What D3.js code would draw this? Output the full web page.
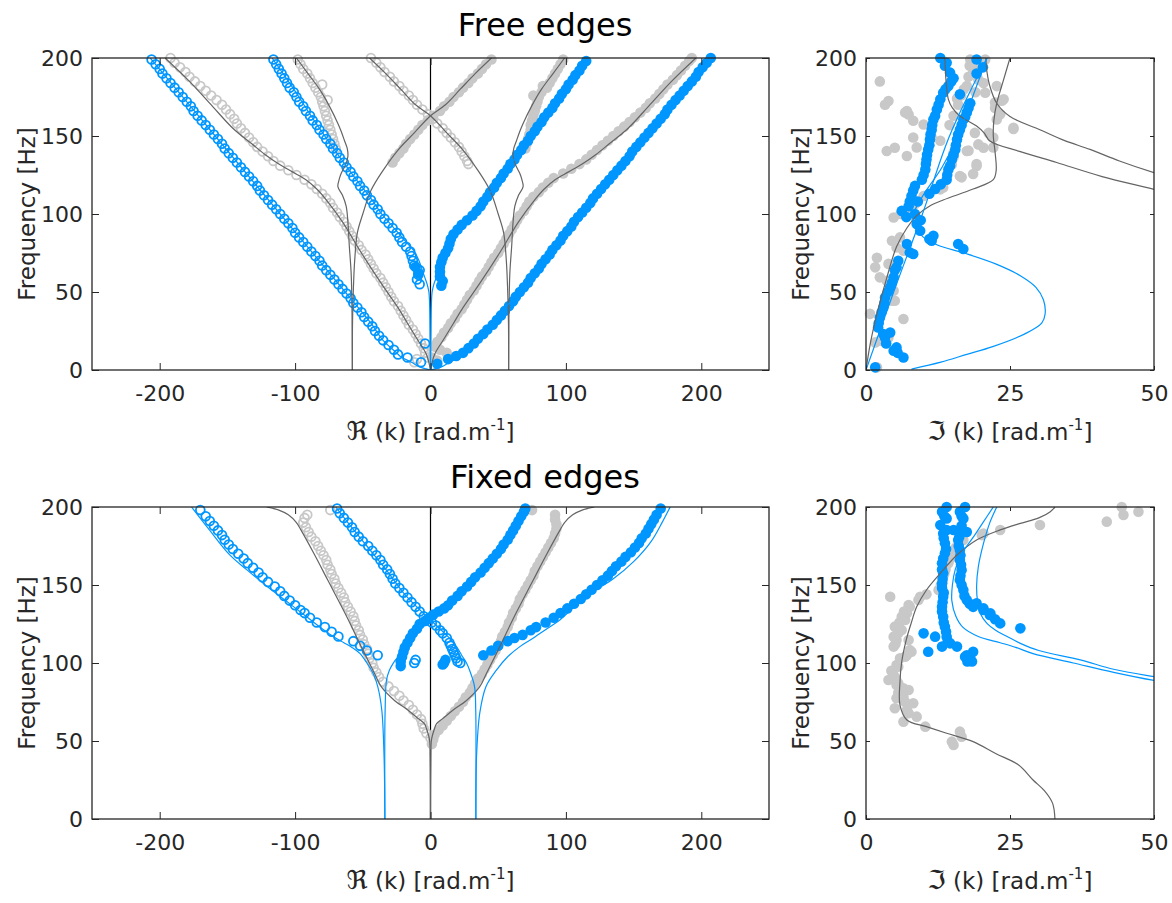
<!DOCTYPE html>
<html>
<head>
<meta charset="utf-8">
<script src="https://cdn.jsdelivr.net/npm/d3@7"></script>
<style>
  body { margin: 0; background: #fff; }
  text { font-family: "DejaVu Sans", Verdana, sans-serif; }
</style>
</head>
<body>
<svg id="fig" width="1172" height="903"></svg>
<script>
// ---- data: each point is [frequency Hz, k rad/m] ----

// Free edges, real part
const freeReBlueOpenA = [[5,-7],[8,-17],[10,-24],[13,-27],[16,-31],[19,-35],[22,-38],[25,-41],[28,-43],[31,-46],[34,-49],[37,-51],[40,-54],[43,-57],[46,-59],[49,-62],[52,-65],[55,-68],[58,-71],[61,-74],[64,-77],[67,-80],[70,-82],[73,-85],[76,-88],[79,-91],[82,-94],[85,-97],[88,-100],[91,-102],[94,-105],[97,-108],[100,-111],[103,-114],[106,-117],[109,-120],[112,-123],[115,-126],[118,-128],[121,-131],[124,-134],[127,-137],[130,-140],[133,-143],[136,-146],[139,-149],[142,-152],[145,-154],[148,-157],[151,-160],[154,-163],[157,-166],[160,-169],[163,-172],[166,-175],[169,-177],[172,-180],[175,-183],[178,-186],[181,-189],[184,-192],[187,-195],[190,-198],[193,-200],[196,-203],[199,-206],[17,-4]];
const freeReBlueFillD = [[4,5],[7,13],[9,19],[11,24],[14,28],[17,32],[20,35],[23,39],[26,42],[29,46],[32,49],[35,52],[38,55],[41,58],[44,61],[47,63],[50,66],[53,69],[56,72],[59,74],[62,77],[65,80],[68,82],[71,85],[74,88],[77,90],[80,93],[83,96],[86,98],[89,101],[92,104],[95,106],[98,109],[101,112],[104,115],[107,118],[110,120],[113,123],[116,126],[119,129],[122,132],[125,135],[128,138],[131,141],[134,144],[137,147],[140,149],[143,152],[146,155],[149,158],[152,161],[155,164],[158,167],[161,170],[164,173],[167,175],[170,178],[173,181],[176,184],[179,187],[182,190],[185,193],[188,196],[191,198],[194,201],[197,204],[200,207]];
const freeReBlueOpenB = [[55,-8],[58,-10],[61,-9],[64,-8],[67,-12],[70,-13],[73,-14],[76,-15],[79,-18],[82,-21],[85,-23],[88,-25],[91,-28],[94,-31],[97,-34],[100,-37],[103,-39],[106,-42],[109,-44],[112,-47],[115,-49],[118,-52],[121,-54],[124,-57],[127,-59],[130,-62],[133,-64],[136,-67],[139,-69],[142,-72],[145,-74],[148,-77],[151,-79],[154,-82],[157,-84],[160,-87],[163,-89],[166,-92],[169,-94],[172,-97],[175,-99],[178,-101],[181,-104],[184,-106],[187,-108],[190,-110],[193,-112],[196,-114],[199,-116]];
const freeReBlueFillC = [[54,8],[57,9],[60,7],[63,7],[66,7],[69,8],[72,9],[75,11],[78,13],[81,14],[84,15],[87,17],[90,20],[93,23],[96,27],[99,31],[102,34],[105,37],[108,39],[111,42],[114,44],[117,47],[120,49],[123,52],[126,54],[129,57],[132,59],[135,62],[138,64],[141,67],[144,69],[147,72],[150,74],[153,77],[156,79],[159,82],[162,84],[165,87],[168,90],[171,92],[174,95],[177,97],[180,100],[183,102],[186,105],[189,107],[192,110],[195,112],[198,115],[66,-11],[62,-9]];
const freeReGrayOpenE = [[5,-12],[7,-10],[8,-2],[11,-4],[14,-5],[17,-7],[20,-9],[23,-11],[26,-13],[29,-16],[32,-18],[35,-20],[38,-22],[41,-24],[44,-27],[47,-29],[50,-31],[53,-33],[56,-35],[59,-37],[62,-40],[65,-42],[68,-44],[71,-46],[74,-48],[77,-51],[80,-53],[83,-56],[86,-58],[89,-60],[92,-62],[95,-64],[98,-67],[101,-69],[104,-72],[107,-74],[110,-77],[113,-80],[116,-84],[119,-88],[122,-93],[125,-99],[128,-105],[131,-111],[134,-116],[137,-120],[140,-124],[143,-128],[146,-131],[149,-134],[152,-137],[155,-140],[158,-143],[161,-145],[164,-148],[167,-151],[170,-154],[173,-158],[176,-162],[179,-166],[182,-170],[185,-174],[188,-178],[191,-181],[194,-185],[197,-189],[200,-192]];
const freeReGrayFillF = [[6,5],[8,1],[11,12],[13,7],[15,3],[18,5],[21,8],[24,10],[27,13],[30,15],[33,18],[36,20],[39,23],[42,25],[45,27],[48,29],[51,32],[54,34],[57,36],[60,38],[63,41],[66,43],[69,45],[72,47],[75,50],[78,52],[81,54],[84,56],[87,58],[90,60],[93,62],[96,64],[99,66],[102,69],[105,71],[108,73],[111,76],[114,80],[117,83],[120,87],[123,91],[126,98],[129,104],[132,110],[135,115],[138,119],[141,123],[144,127],[147,131],[150,135],[153,139],[156,143],[159,147],[162,151],[165,155],[168,159],[171,162],[174,166],[177,169],[180,172],[183,175],[186,179],[189,182],[192,185],[195,188],[198,191],[200,193]];
const freeReGrayOpenG = [[142,-70],[145,-71],[148,-72],[151,-73],[154,-74],[157,-75],[160,-76],[163,-77],[166,-78],[169,-79],[172,-80],[175,-81],[178,-83],[181,-85],[184,-87],[187,-89],[190,-91],[193,-94],[196,-96],[199,-98],[173,-76],[183,-80]];
const freeReGrayFillJ = [[142,70],[145,71],[148,72],[151,73],[154,74],[157,74],[160,75],[163,76],[166,77],[169,78],[172,79],[175,80],[178,82],[181,86],[184,88],[187,90],[190,92],[193,94],[196,96],[199,98],[176,76],[182,83]];
const freeReGrayOpenH = [[132,28],[134,27],[137,25],[140,23],[143,21],[146,18],[149,15],[152,12],[155,9],[158,5],[161,2],[164,-2],[167,-6],[170,-10],[173,-13],[176,-16],[179,-20],[182,-23],[185,-27],[188,-30],[191,-34],[194,-37],[197,-40],[200,-44]];
const freeReGrayFillI = [[133,-28],[136,-26],[139,-23],[142,-20],[145,-18],[148,-15],[151,-12],[154,-9],[157,-6],[160,-2],[163,2],[166,7],[169,10],[172,14],[175,17],[178,21],[181,24],[184,28],[187,31],[190,35],[193,38],[196,41],[199,45]];

const freeReModelGrayR1 = [[0,0],[10,3],[20,10],[30,17],[40,24],[55,36],[75,51],[95,65],[108,76],[116,84],[122,92],[127,102],[132,112],[138,122],[145,132],[155,146],[169,161],[185,178],[200,196]];
const freeReModelGrayL1 = [[0,0],[10,-3],[20,-10],[30,-17],[40,-24],[55,-36],[75,-51],[95,-65],[108,-76],[116,-84],[122,-92],[127,-102],[132,-112],[138,-122],[145,-132],[155,-146],[169,-161],[185,-178],[200,-196]];
const freeReModelGrayR2 = [[0,57.7],[20,57.8],[40,58],[62,58.6],[80,60],[95,61],[105,62.3],[112,65],[117.5,68.4],[122,67.5],[126,66],[132,62.5],[137,61],[142,61.5],[147,63.5],[153,66],[158,68.4],[169,74.6],[180,82],[190,90.5],[200,99]];
const freeReModelGrayL2 = [[0,-57.7],[20,-57.8],[40,-58],[62,-58.6],[80,-60],[95,-61],[105,-62.3],[112,-65],[117.5,-68.4],[122,-67.5],[126,-66],[132,-62.5],[137,-61],[142,-61.5],[147,-63.5],[153,-66],[158,-68.4],[169,-74.6],[180,-82],[190,-90.5],[200,-99]];
const freeReModelGrayX1 = [[0,57.7],[30,57.6],[51,57],[70,56],[88,54],[100,50],[115,44],[128,35],[141,24],[152,12],[163,0],[170,-11],[180,-22],[190,-33],[200,-45]];
const freeReModelGrayX2 = [[0,-57.7],[30,-57.6],[51,-57],[70,-56],[88,-54],[100,-50],[115,-44],[128,-35],[141,-24],[152,-12],[163,0],[170,11],[180,22],[190,33],[200,45]];
const freeReModelBlueR1 = [[0,0],[2,8],[5,14],[8.5,22],[11,25],[19,35],[30,46],[50,65],[100,112],[150,160],[200,207]];
const freeReModelBlueL1 = [[0,0],[2,-8],[5,-14],[8.5,-22],[11,-25],[19,-35],[30,-44],[50,-63],[100,-111],[150,-159],[200,-207]];
const freeReModelBlueR2 = [[0,0],[20,0.3],[40,0.6],[50,1.2],[55,2.5],[60,4.5],[66,6.5],[72,8.5],[78,11.5],[84,15],[90,19],[96,26],[102,33],[110,41],[120,49],[140,66],[160,83],[180,100],[200,117]];
const freeReModelBlueL2 = [[0,0],[20,-0.3],[40,-0.6],[50,-1.2],[55,-2.5],[60,-4.5],[65,-6.5],[70,-8.5],[76,-12],[82,-18],[88,-24],[94,-30],[100,-36],[110,-44],[120,-53],[140,-70],[160,-86],[180,-101],[200,-117]];

// Free edges, imaginary part
const freeImBlue = [[200,12.9],[197,14],[195,13.7],[190.6,14.6],[187,15.2],[185,14.8],[182,14.3],[180,13.8],[177.7,13.4],[173.5,12.9],[170,12.6],[167,12.3],[163,12],[160.6,11.7],[157,11.5],[154,11.4],[151,11.2],[147.8,11.1],[144,11],[141.4,10.8],[138,10.6],[135,10.5],[132,10.4],[128.6,10.3],[125,10],[122,9.7],[118,8.5],[115,8.2],[111.5,7.9],[108,7.6],[105,7.4],[102,6.2],[98,7],
  [176.7,16.3],[171,18.1],[168,17.8],[165,17.5],[162,17.2],[160.6,16.9],[157,16.6],[154,16.3],[151,16],[147.8,15.8],[144,15.6],[141.4,15.5],[138,15.2],[135,14.9],[131,14.6],[128.6,14.3],[125,14.1],[122,14],[119,13],[116,12],[113,11],[108,9],[100,8.5],[96,9.5],
  [199,19.2],[194,20.3],[190,19.2],
  [93.6,8.8],[89.3,9.4],[86,11.7],[84,11],[82.9,11.4],[80.8,16],[77.6,16.9],[80.8,7.1],[75.4,7.6],[74.4,8.2],[70,5.6],[65.8,5.3],[64,5],[59.4,4.8],[56,4.5],[53,4.2],[50,3.8],[46.5,3.3],[43,3.2],[40,3],[37,2.7],[33.7,2.4],[30,2.2],[27.3,2.1],[24,4.2],[23,3],[20.9,3.3],[17,3.5],[14.5,5.3],[12.4,4.8],[11,5.5],[8,6.5],[1.7,1.6]];
const freeImGray = [[185,2.4],[172.4,3.9],[170,3.3],[166,7.1],[163.8,7.4],[157.4,10],[149,8.2],[140.4,3.6],[142.5,5],[137.2,7.1],[199,18.1],[199,20.7],[190.6,18.6],[182,17.5],[174,15.8],[184,20.4],[177.7,20.7],[182,22.7],[173.5,23.9],[168,22.4],[160.6,22.7],[155.3,25.6],[152,21.3],[152,18.9],[144.6,19.5],[142.5,20.4],[140.4,17.5],[139.3,15.2],[130.8,19.2],[124.4,16.3],[131.8,14.9],[115.8,12.9],[119,13.2],[111.5,10],[106.2,8.5],[102,7.1],[165,6.8],[159.8,8.2],[142.7,8.8],[149,11.4],[147,12.9],[136.3,15.2],[140.6,17.8],[142.7,22.1],[149,22.1],[132,19.2],[125.6,18.6],[123.5,16.6],[117,13.4],[171.5,22.4],[172.6,23.6],[164,23.3],[154.5,25.6],
  [195,18],[193,19.5],[188,17.8],[186,19.5],[180,17],[178,19],[176,16.5],[170,16],[163,15.2],[157,14.5],
  [72,1.9],[65.8,1.6],[59.4,2.4],[68,3.9],[57.2,3.6],[50.8,4.8],[44.4,4.5],[44.4,5],[36,0.7],[32.7,6.5],[20.9,3.9],[18.8,2.4],[17.7,1.6],[1.7,1.9],[85,5.9],[78.6,5.3],[82.9,4.5],[76.5,6.5],[97.8,4.8],[100,6],[101,7.6]];

const freeImModelGray1 = [[0,0],[18,0.8],[36,1.9],[59,3.6],[79,5.3],[91,7.1],[99,8.8],[105,11],[109,13.4],[116,18.6],[122,22.1],[128,22.6],[140,22.4],[150,22.1],[160,22.2],[171,22.7],[185,23.8],[200,25]];
const freeImModelGray2 = [[120,56],[126.5,50],[134,44],[141.4,38.9],[147,34.5],[154,30.2],[162.5,25],[171,22.7],[182,21.5],[191,21],[200,20.8]];
const freeImModelGray3 = [[110,56],[115.8,50],[124,41],[133,33.1],[140,26.8],[146.8,21.5],[152,20.5],[156.4,19.2],[162.8,16.3],[168,15],[173.5,14.3],[185,13.9],[200,13.7]];
const freeImModelBlue1 = [[0,0],[50,4.8],[100,9.8],[150,14.5],[200,21]];
const freeImModelBlue2 = [[0.6,7.9],[5,13],[10,17.5],[15,22],[23,27.5],[30,30.5],[36,31.1],[45,30.8],[53,29.5],[60,27],[68,22.5],[75,17],[80,12.5],[85,10],[90,8.8],[97,8],[110,9.6],[130,13.2],[150,16],[175,18.5],[200,21]];

// Fixed edges, real part
const fixReBlueOpenA = [[105,-39],[108,-47],[111,-52],[114,-57],[117,-68],[120,-73],[123,-78],[126,-84],[129,-89],[132,-93],[134,-96],[137,-100],[140,-104],[143,-108],[146,-111],[149,-115],[152,-120],[155,-124],[158,-127],[161,-131],[164,-135],[167,-138],[170,-142],[173,-146],[176,-149],[179,-152],[182,-154],[185,-157],[188,-160],[191,-163],[194,-166],[198,-170]];
const fixReBlueFillA = [[105,39],[108,45],[111,50],[114,57],[116,62],[118,68],[121,74],[123,78],[126,85],[129,91],[132,96],[135,101],[138,106],[141,111],[144,115],[147,119],[150,123],[153,127],[156,131],[159,134],[162,137],[165,141],[168,144],[171,148],[174,151],[177,154],[180,156],[183,159],[186,161],[189,163],[192,165],[195,167],[199,170]];
const fixReBlueFillC = [[98,-22],[101,-22],[104,-21],[107,-20],[110,-19],[113,-17],[116,-15],[119,-13],[122,-10],[125,-8],[127,-4],[129,-1],[131,2],[133,6],[135,10],[137,13],[140,16],[143,20],[146,23],[149,27],[152,30],[155,33],[158,37],[161,40],[164,43],[167,46],[170,49],[173,52],[176,54],[179,57],[182,59],[185,61],[188,63],[191,65],[194,67],[197,69],[199,70],[100,10],[102,11],[99,9]];
const fixReBlueOpenB = [[199,-69],[196,-67],[193,-64],[190,-61],[187,-58],[184,-56],[181,-53],[178,-50],[175,-46],[172,-43],[169,-40],[166,-37],[163,-35],[160,-32],[157,-30],[154,-28],[151,-26],[148,-23],[145,-20],[142,-17],[139,-14],[136,-11],[133,-8],[130,-5],[128,-2],[126,1],[124,4],[121,7],[119,9],[116,12],[113,14],[111,15],[109,16],[107,17],[105,18],[103,19],[101,20],[100,22],[100,-12],[102,-11]];
const fixReGrayOpen = [[52,0],[55,-3],[58,-5],[61,-6],[64,-7],[67,-10],[70,-13],[73,-16],[76,-20],[79,-23],[82,-27],[85,-31],[88,-35],[91,-38],[94,-40],[97,-42],[100,-43],[103,-45],[106,-46],[109,-47],[112,-49],[115,-50],[118,-52],[121,-53],[124,-55],[127,-56],[130,-57],[133,-59],[136,-61],[139,-63],[142,-64],[145,-66],[148,-68],[151,-70],[154,-71],[157,-73],[160,-74],[163,-76],[166,-77],[169,-79],[172,-81],[175,-83],[178,-85],[181,-88],[184,-90],[187,-92],[190,-94],[193,-93],[195,-91],[198,-74]];
const fixReGrayFill = [[48,1],[51,2],[54,3],[57,6],[60,9],[63,12],[66,15],[69,18],[72,21],[75,24],[78,26],[81,29],[84,31],[87,33],[90,35],[93,38],[96,40],[99,42],[102,44],[105,46],[108,48],[111,50],[114,52],[117,53],[120,55],[123,57],[126,58],[129,60],[132,61],[135,63],[138,65],[141,66],[144,68],[147,70],[150,72],[153,74],[156,76],[159,77],[162,79],[165,81],[168,83],[171,85],[174,87],[177,89],[180,91],[183,92],[186,93],[189,93],[192,92],[195,92],[198,75]];

const fixReModelGrayR = [[0,0],[40,0.3],[50.6,0.7],[58,3],[61,4.4],[64.5,9.3],[70,17],[76,26.6],[84.8,36.4],[93.4,41.4],[110.5,51.2],[130,62],[153,75.8],[170,86],[185,95.5],[190,99],[195,105],[198,112],[200,121]];
const fixReModelGrayL = [[0,0],[40,-0.3],[50.6,-0.7],[58,-3],[61,-4.4],[64.5,-9.3],[70,-17],[76,-26.6],[84.8,-36.4],[93.4,-41.4],[110.5,-51.2],[130,-62],[153,-75.8],[170,-86],[185,-95.5],[190,-99],[195,-105],[198,-112],[200,-121]];
const fixReModelBlueL1 = [[0,-33.7],[40,-34.3],[70,-36],[85,-39],[93.4,-42.4],[100,-47],[106,-52],[110,-58],[113,-64],[117,-72],[122,-80],[130,-92],[140,-107],[150,-122],[160,-136],[170,-149],[185,-163],[200,-176.5]];
const fixReModelBlueR1 = [[0,33.5],[40,34],[68,36.4],[85,41],[95.5,48.7],[104,57],[110.5,66],[116,76],[122,86],[127.6,95.5],[135,105],[145,119],[154,135],[165,150],[178,163],[190,171],[200,177]];
const fixReModelBlueX1 = [[0,-33.7],[40,-33.8],[70,-33.5],[89,-32.5],[95,-30.5],[99.8,-27.6],[105,-23],[110.5,-17.7],[116,-12.5],[121,-7.9],[127.6,0],[135,10],[145,22],[158,37],[175,54],[190,64],[200,71]];
const fixReModelBlueX2 = [[0,33.5],[40,33.6],[70,33.4],[85,32.5],[95,29],[100,26.6],[105,23],[110.5,19.2],[116,14],[121,8],[127.6,0],[135,-9],[145,-20],[160,-33],[175,-47],[190,-61],[200,-70]];

// Fixed edges, imaginary part
const fixImBlue = [[200,14],[197,13.2],[194,13.6],[192.7,14],[188.5,12.9],[183,13.4],[180,13.5],[176.7,13.7],[173,13.9],[170.3,13.7],[167,13.4],[163.9,13.2],[160,13.2],[157.5,13.4],[154,13.3],[151,13.2],[148,13.2],[145,13.5],[142.5,13.4],[139,13.3],[136,13.2],[133,13.2],[129.7,13.4],[126,13.5],[123.3,13.7],[120,13.9],[116.9,14],[114,14.2],[112.6,14.6],[110.5,13.2],[110.5,15.8],[119,10],[116.9,12],[107.2,10.8],[105,17.5],[107.2,18.6],[103,18.1],[101,18.4],[104,17.2],[101,17.6],
  [200,17.2],[197,16.3],[194,16.6],[192.7,16.9],[188,16.6],[185.3,16.3],[184,17.5],[181,16.2],[178.8,16],[175,16.1],[172.4,16.3],[169,16.4],[166,16.3],[163,16.5],[159.6,16.6],[156,16.4],[153.2,16.3],[150,16.6],[146.8,16.9],[143,17.1],[140.4,17.5],[138,18],[136,18.6],[134,20.4],[130.8,21.5],[128,22.4],[125.4,23.3],[122.2,26.8],[131.8,21.6],[135,20.4],[138.3,19.2],[185.3,14],[185.3,15.2]];
const fixImGray = [[185.3,23.3],[183,20.4],[178.8,16.9],[174,15.6],[170.3,14.9],[167,14.6],[163.9,14.3],[160,13.8],[157,13.6],[152,13.3],[150,13],[146.8,12.6],[144,10.5],[142.5,9.4],[140.4,9.1],[136,7.6],[131.9,7.1],[127.6,6.8],[121.2,6.2],[114.7,5.3],[110.5,4.8],[108.3,7.6],[104,6.8],[190.6,41.8],[200,44.4],[194.9,44.7],[197,47.3],[188.5,30.2],[182,20.1],[142.5,4.2],[137.2,7.4],[129.7,6.2],[123.3,5],[116.9,4.8],[114.7,7.4],[107.2,7.9],[98.7,5.3],[97.6,5.6],[92.3,4.8],[89.1,3.9],[87,5.6],[85.9,5.3],[83.8,6.5],[82.7,7.4],[77.4,5.3],[78.4,6.5],[71,5],[74.2,8.2],[67.8,7.4],[65.6,8.8],[62.4,6.5],[59.2,10.3],[56,16.3],[52.8,16.6],[49.6,14.9],[47.4,15.2],[103,5.9],[105,7.1],[69.9,7.1],
  [133,6.6],[126,5.8],[119,5.6],[112,5.1],[95,4.4],[90,5.2],[81,5.6],[75,6.8]];

const fixImModelGray = [[0,32.8],[10,32.4],[18,31],[25,29],[34.6,26.5],[42,22.5],[49.6,18.6],[55,14],[59.2,10.5],[63.5,7.1],[73,5.9],[88,5.9],[100.8,6.2],[115,7],[125,7.8],[136,8.8],[146.8,10.5],[157.5,12.9],[169.2,15.8],[178.8,19.2],[185.3,23.3],[189.5,26.8],[193,30],[197,32],[200,32.8]];
const fixImModelBlue1 = [[84,58],[88.8,50],[94,43],[100,36],[106,29],[110,26],[113,23.3],[117,19.5],[123,16.8],[130,15.6],[140,14.9],[150,15],[160,15.5],[170,16.6],[180,18.5],[190,20.3],[200,22.1]];
const fixImModelBlue2 = [[86.5,58],[91.2,50],[96,43],[102,37.2],[108,30],[112.6,26.8],[117,24.5],[121,22.5],[125.4,21],[132,19.8],[138.3,19.4],[149,19.2],[161.7,19.5],[176.7,20.4],[190,21.5],[200,22.7]];

const reTicks = [-200, -100, 0, 100, 200];
const imTicks = [0, 25, 50];
const freqTicks = [0, 50, 100, 150, 200];

// ---- drawing ----
const BLUE = "#0096ff", LGRAY = "#c8c8c8", DGRAY = "#646464", AX = "#262626";
const svg = d3.select("#fig");
svg.append("rect").attr("width", 1172).attr("height", 903).attr("fill", "#fff");

let clipCount = 0;
function panel(o) {
  const x = d3.scaleLinear().domain(o.xDomain).range([o.left, o.right]);
  const y = d3.scaleLinear().domain([0, 200]).range([o.bottom, o.top]);
  const id = "clip" + (clipCount++);
  svg.append("clipPath").attr("id", id).append("rect")
    .attr("x", o.left).attr("y", o.top)
    .attr("width", o.right - o.left).attr("height", o.bottom - o.top);
  const g = svg.append("g");

  if (o.zeroLine) {
    g.append("line")
      .attr("x1", x(0)).attr("x2", x(0)).attr("y1", o.top).attr("y2", o.bottom)
      .attr("stroke", "#000").attr("stroke-width", 1.2);
  }

  o.markers.forEach(m => {
    g.append("g").selectAll("circle").data(m.data).join("circle")
      .attr("cx", d => x(d[1]))
      .attr("cy", d => y(d[0]))
      .attr("r", m.open ? 4.4 : 5.3)
      .attr("fill", m.open ? "none" : m.color)
      .attr("stroke", m.open ? m.color : "none")
      .attr("stroke-width", 1.8);
  });

  const line = d3.line()
    .x(d => x(d[1])).y(d => y(d[0]))
    .curve(d3.curveCatmullRom.alpha(0.5));
  o.lines.forEach(l => {
    g.append("path")
      .attr("clip-path", `url(#${id})`)
      .attr("d", line(l.data))
      .attr("fill", "none")
      .attr("stroke", l.color)
      .attr("stroke-width", 1.2);
  });

  // axes, ticks pointing inwards on all four sides
  const tl = o.tickLen;
  const fmt = d => String(d);
  const styleAxis = sel => {
    sel.select(".domain").remove();
    sel.selectAll(".tick line").attr("stroke", AX).attr("stroke-width", 1);
    sel.selectAll(".tick text").attr("fill", AX).style("font-size", "22px")
      .style("font-family", '"DejaVu Sans", Verdana, sans-serif');
  };
  g.append("g").attr("transform", `translate(0,${o.bottom})`)
    .call(d3.axisBottom(x).tickValues(o.xTicks).tickSize(-tl).tickPadding(15).tickFormat(fmt))
    .call(styleAxis);
  g.append("g").attr("transform", `translate(0,${o.top})`)
    .call(d3.axisTop(x).tickValues(o.xTicks).tickSize(-tl).tickFormat(""))
    .call(styleAxis);
  g.append("g").attr("transform", `translate(${o.left},0)`)
    .call(d3.axisLeft(y).tickValues(freqTicks).tickSize(-tl).tickPadding(9).tickFormat(fmt))
    .call(styleAxis);
  g.append("g").attr("transform", `translate(${o.right},0)`)
    .call(d3.axisRight(y).tickValues(freqTicks).tickSize(-tl).tickFormat(""))
    .call(styleAxis);

  g.append("rect")
    .attr("x", o.left).attr("y", o.top)
    .attr("width", o.right - o.left).attr("height", o.bottom - o.top)
    .attr("fill", "none").attr("stroke", AX).attr("stroke-width", 1.3);

  // axis labels
  const xl = g.append("text")
    .attr("x", (o.left + o.right) / 2).attr("y", o.bottom + 70)
    .attr("text-anchor", "middle").attr("fill", AX).style("font-size", "23px");
  xl.append("tspan").style("font-size", "26px").text(o.symbol);
  xl.append("tspan").text(" (k) [rad.m");
  xl.append("tspan").attr("dy", -10).style("font-size", "15px").text("-1");
  xl.append("tspan").attr("dy", 10).text("]");

  g.append("text")
    .attr("transform", `translate(${o.left - 57},${(o.top + o.bottom) / 2}) rotate(-90)`)
    .attr("text-anchor", "middle").attr("fill", AX).style("font-size", "23px")
    .text("Frequency [Hz]");
}

const leftBox = { left: 92, right: 769, xDomain: [-250, 250], xTicks: reTicks, tickLen: 7, symbol: "\u211C", zeroLine: true };
const rightBox = { left: 866, right: 1154, xDomain: [0, 50], xTicks: imTicks, tickLen: 4, symbol: "\u2111", zeroLine: false };

panel({ ...leftBox, top: 58, bottom: 370,
  markers: [
    { data: freeReGrayOpenE, color: LGRAY, open: true },
    { data: freeReGrayOpenG, color: LGRAY, open: true },
    { data: freeReGrayOpenH, color: LGRAY, open: true },
    { data: freeReGrayFillF, color: LGRAY, open: false },
    { data: freeReGrayFillJ, color: LGRAY, open: false },
    { data: freeReGrayFillI, color: LGRAY, open: false },
    { data: freeReBlueOpenA, color: BLUE, open: true },
    { data: freeReBlueOpenB, color: BLUE, open: true },
    { data: freeReBlueFillD, color: BLUE, open: false },
    { data: freeReBlueFillC, color: BLUE, open: false }
  ],
  lines: [
    { data: freeReModelGrayR1, color: DGRAY }, { data: freeReModelGrayL1, color: DGRAY },
    { data: freeReModelGrayR2, color: DGRAY }, { data: freeReModelGrayL2, color: DGRAY },
    { data: freeReModelGrayX1, color: DGRAY }, { data: freeReModelGrayX2, color: DGRAY },
    { data: freeReModelBlueR1, color: BLUE }, { data: freeReModelBlueL1, color: BLUE },
    { data: freeReModelBlueR2, color: BLUE }, { data: freeReModelBlueL2, color: BLUE }
  ] });

panel({ ...rightBox, top: 58, bottom: 370,
  markers: [
    { data: freeImGray, color: LGRAY, open: false },
    { data: freeImBlue, color: BLUE, open: false }
  ],
  lines: [
    { data: freeImModelGray1, color: DGRAY }, { data: freeImModelGray2, color: DGRAY },
    { data: freeImModelGray3, color: DGRAY },
    { data: freeImModelBlue1, color: BLUE }, { data: freeImModelBlue2, color: BLUE }
  ] });

panel({ ...leftBox, top: 507, bottom: 819,
  markers: [
    { data: fixReGrayOpen, color: LGRAY, open: true },
    { data: fixReGrayFill, color: LGRAY, open: false },
    { data: fixReBlueOpenA, color: BLUE, open: true },
    { data: fixReBlueOpenB, color: BLUE, open: true },
    { data: fixReBlueFillA, color: BLUE, open: false },
    { data: fixReBlueFillC, color: BLUE, open: false }
  ],
  lines: [
    { data: fixReModelGrayR, color: DGRAY }, { data: fixReModelGrayL, color: DGRAY },
    { data: fixReModelBlueL1, color: BLUE }, { data: fixReModelBlueR1, color: BLUE },
    { data: fixReModelBlueX1, color: BLUE }, { data: fixReModelBlueX2, color: BLUE }
  ] });

panel({ ...rightBox, top: 507, bottom: 819,
  markers: [
    { data: fixImGray, color: LGRAY, open: false },
    { data: fixImBlue, color: BLUE, open: false }
  ],
  lines: [
    { data: fixImModelGray, color: DGRAY },
    { data: fixImModelBlue1, color: BLUE }, { data: fixImModelBlue2, color: BLUE }
  ] });

// titles
svg.append("text").attr("x", 545).attr("y", 36).attr("text-anchor", "middle")
  .attr("fill", "#000").style("font-size", "32px").text("Free edges");
svg.append("text").attr("x", 545).attr("y", 488).attr("text-anchor", "middle")
  .attr("fill", "#000").style("font-size", "32px").text("Fixed edges");
</script>
</body>
</html>
